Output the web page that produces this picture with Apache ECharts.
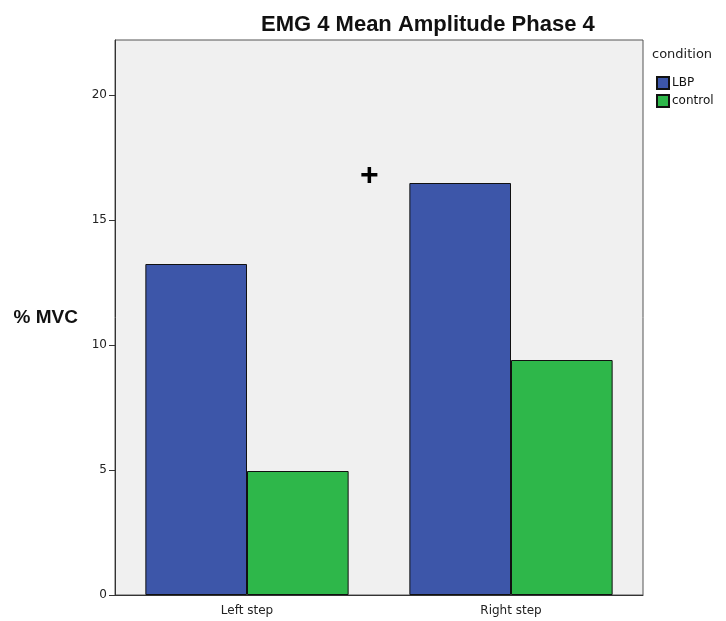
<!DOCTYPE html>
<html>
<head>
<meta charset="utf-8">
<script src="https://cdn.jsdelivr.net/npm/echarts@6/dist/echarts.min.js"></script>
<style>
  html, body { margin: 0; padding: 0; background: #fff; }
  #chart { width: 726px; height: 621px; }
</style>
</head>
<body>
<div id="chart"></div>
<script>
const categories = ['Left step', 'Right step']
const lbpValues = [13.24, 16.48]
const controlValues = [4.96, 9.4]
const yTicks = [0, 5, 10, 15, 20]

const chart = echarts.init(document.getElementById('chart'))

const font = 'Liberation Sans, Arial, sans-serif'
const smallFont = 'DejaVu Sans, Verdana, sans-serif'

chart.setOption({
  animation: false,
  title: {
    text: 'EMG 4 Mean Amplitude Phase 4',
    left: 256,
    top: 9,
    textStyle: { fontFamily: font, fontSize: 22, fontWeight: 'bold', color: '#111' },
  },
  legend: {
    orient: 'vertical',
    left: 651,
    top: 71,
    itemWidth: 12,
    itemHeight: 12,
    itemGap: 4,
    icon: 'rect',
    textStyle: { fontFamily: smallFont, fontSize: 12, color: '#111', padding: [0, 0, 0, -2] },
    data: ['LBP', 'control'],
  },
  graphic: [
    {
      type: 'text',
      left: 652,
      top: 48,
      style: { text: 'condition', font: '13px ' + smallFont, fill: '#222' },
    },
    {
      type: 'text',
      left: 360,
      top: 160,
      style: { text: '+', font: 'bold 32px ' + font, fill: '#000' },
    },
  ],
  grid: {
    left: 115,
    right: 83,
    top: 40,
    bottom: 26,
    outerBoundsMode: 'none',
    containLabel: false,
    show: true,
    backgroundColor: '#f0f0f0',
    borderColor: '#555',
    borderWidth: 1,
  },
  xAxis: {
    type: 'category',
    data: categories,
    axisLine: { lineStyle: { color: '#333' } },
    axisTick: { alignWithLabel: true, length: 7, lineStyle: { color: '#333' } },
    axisLabel: { fontFamily: smallFont, fontSize: 12, color: '#222', margin: 10 },
  },
  yAxis: {
    type: 'value',
    min: 0,
    max: 22.2,
    interval: 5,
    name: '% MVC',
    nameLocation: 'middle',
    nameRotate: 0,
    nameGap: 37,
    nameTextStyle: { fontFamily: font, fontSize: 19, fontWeight: 'bold', color: '#111' },
    splitLine: { show: false },
    axisLine: { show: true, lineStyle: { color: '#333' } },
    axisTick: { show: true, length: 6, customValues: yTicks, lineStyle: { color: '#333' } },
    axisLabel: {
      fontFamily: smallFont,
      fontSize: 12,
      color: '#222',
      margin: 8,
      customValues: yTicks,
    },
  },
  series: [
    {
      name: 'LBP',
      type: 'bar',
      data: lbpValues,
      barGap: '0%',
      barCategoryGap: '23%',
      itemStyle: { color: '#3d56a9', borderColor: '#111', borderWidth: 1 },
    },
    {
      name: 'control',
      type: 'bar',
      data: controlValues,
      itemStyle: { color: '#2eb74a', borderColor: '#111', borderWidth: 1 },
    },
  ],
})
</script>
</body>
</html>
